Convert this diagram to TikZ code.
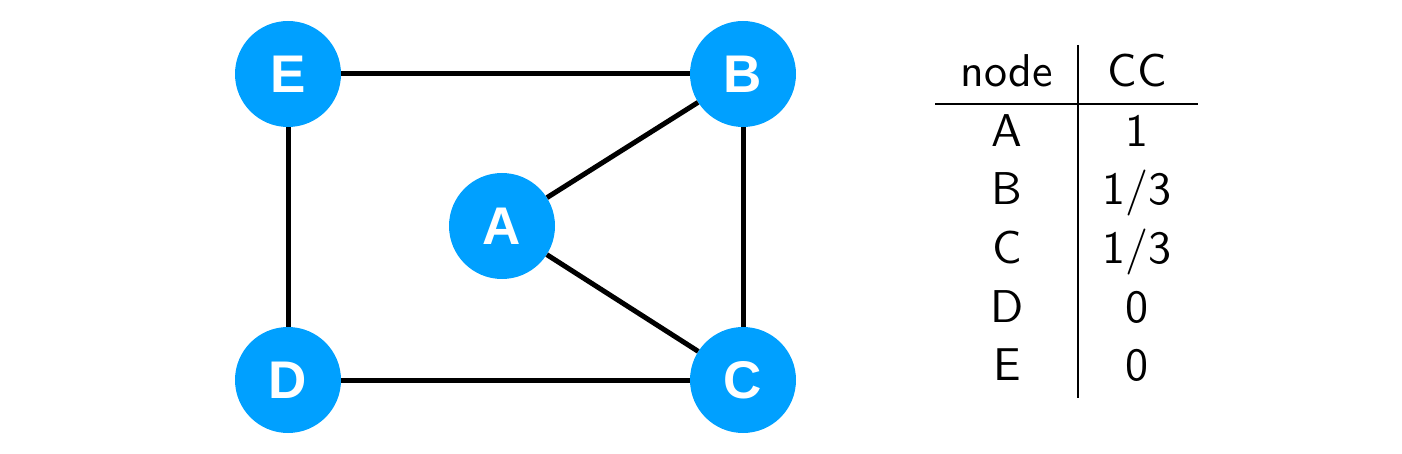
\documentclass[tikz,border=0pt]{standalone}
\usepackage{fontspec}
\newfontfamily\nodefont{Liberation Sans}
\newfontfamily\tabfont{lmsans10-regular.otf}
\definecolor{nodeblue}{RGB}{0,160,255}
\begin{document}
\begin{tikzpicture}[x=1pt,y=-1pt,
  vertex/.style={circle,fill=nodeblue,draw=none,minimum size=106pt,inner sep=0pt,
    text=white,font=\nodefont\bfseries\fontsize{53}{60}\selectfont},
  edge/.style={line width=5pt,black},
  cell/.style={anchor=base,inner sep=0pt,font=\tabfont\fontsize{46}{50}\selectfont},
  rule/.style={line width=1.2pt,black}]
\useasboundingbox (0,0) rectangle (1402,454);
\node[vertex] (E) at (288,74) {E};
\node[vertex] (B) at (743,74) {B};
\node[vertex] (A) at (502,226) {A};
\node[vertex] (D) at (288,380) {D};
\node[vertex] (C) at (743,380) {C};
\draw[edge] (E) -- (B);
\draw[edge] (B) -- (C);
\draw[edge] (E) -- (D);
\draw[edge] (D) -- (C);
\draw[edge] (A) -- (B);
\draw[edge] (A) -- (C);
% table
\coordinate (vt) at (1078,45);
\coordinate (vb) at (1078,398);
\coordinate (hl) at (935,104);
\coordinate (hr) at (1198,104);
\draw[rule] (vt) -- (vb);
\draw[rule] (hl) -- (hr);
\node[cell] (h1) at (1007,87) {node};
\node[cell] (h2) at (1137,87) {CC};
\node[cell] (a1) at (1007,147) {A};
\node[cell] (a2) at (1137,147) {1};
\node[cell] (b1) at (1007,205) {B};
\node[cell] (b2) at (1137,205) {1/3};
\node[cell] (c1) at (1007,264) {C};
\node[cell] (c2) at (1137,264) {1/3};
\node[cell] (d1) at (1007,322) {D};
\node[cell] (d2) at (1137,322) {0};
\node[cell] (e1) at (1007,380) {E};
\node[cell] (e2) at (1137,380) {0};
\end{tikzpicture}
\end{document}
